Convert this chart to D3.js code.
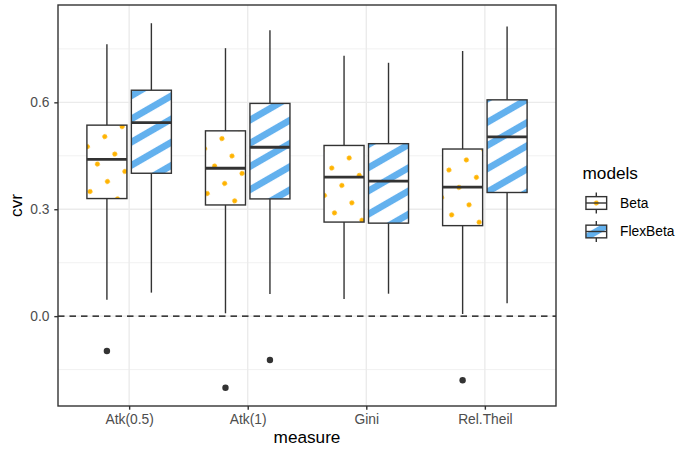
<!DOCTYPE html>
<html>
<head>
<meta charset="utf-8">
<script src="https://cdn.jsdelivr.net/npm/d3@7"></script>
<style>
  body { margin: 0; background: #fff; }
  svg { font-family: "Liberation Sans", Arial, sans-serif; }
</style>
</head>
<body>
<svg width="676" height="450"></svg>
<script>
const width = 676;
const height = 450;
const panel = { left: 58, top: 5, right: 556, bottom: 406 };

const measures = ['Atk(0.5)', 'Atk(1)', 'Gini', 'Rel.Theil'];
const models = ['Beta', 'FlexBeta'];

// five-number summaries: [lower, q1, median, q3, upper]
const betaStats = [
    [0.046, 0.330, 0.440, 0.536, 0.763],
    [0.008, 0.312, 0.415, 0.520, 0.752],
    [0.048, 0.264, 0.390, 0.479, 0.731],
    [0.006, 0.254, 0.362, 0.469, 0.744]
];
const flexStats = [
    [0.066, 0.401, 0.543, 0.634, 0.822],
    [0.062, 0.329, 0.474, 0.597, 0.802],
    [0.063, 0.261, 0.379, 0.484, 0.711],
    [0.036, 0.347, 0.503, 0.607, 0.813]
];
const betaOutliers = [[-0.098], [-0.201], [], [-0.180]];
const flexOutliers = [[], [-0.123], [], []];

const yTicks = [0, 0.3, 0.6];
const yMinor = [-0.15, 0.15, 0.45, 0.75];

const boxes = [];
measures.forEach(function(m, i) {
    boxes.push({ measure: m, model: 'Beta', s: betaStats[i], out: betaOutliers[i] });
    boxes.push({ measure: m, model: 'FlexBeta', s: flexStats[i], out: flexOutliers[i] });
});

const allVals = boxes.flatMap(function(d) { return d.s.concat(d.out); });
const lo = d3.min(allVals), hi = d3.max(allVals);
const pad = (hi - lo) * 0.05;

const x = d3.scalePoint()
    .domain(measures)
    .range([panel.left, panel.right])
    .padding(0.6);

const y = d3.scaleLinear()
    .domain([lo - pad, hi + pad])
    .range([panel.bottom, panel.top]);

const step = x.step();
const dodge = d3.scaleOrdinal().domain(models).range([-0.1875 * step, 0.1875 * step]);
const boxW = 0.3375 * step;
const cx = d => x(d.measure) + dodge(d.model);

const ink = '#333333';
const orange = '#FFB300';
const blue = '#63B1EE';
const spacing = 20.1;
const lw = 1.4;
const smallFont = '13.8px';
const bigFont = '17.2px';

const svg = d3.select('svg');
svg.append('rect').attr('width', width).attr('height', height).attr('fill', '#fff');

const defs = svg.append('defs');

// pattern anchored at (ax, ay) in the user space of whatever uses it
function makePattern(id, kind, ax, ay, shift) {
    const p = defs.append('pattern')
        .attr('id', id)
        .attr('patternUnits', 'userSpaceOnUse')
        .attr('width', spacing)
        .attr('height', spacing)
        .attr('patternTransform', `translate(${ax},${ay}) rotate(-30) translate(${-spacing / 2},${-spacing / 2 - shift})`);
    if (kind === 'dots') {
        p.append('circle')
            .attr('cx', spacing / 2).attr('cy', spacing / 2)
            .attr('r', 2.4).attr('fill', orange);
    } else {
        p.append('rect')
            .attr('x', -1).attr('y', spacing / 2 - 3.4)
            .attr('width', spacing + 2).attr('height', 6.8)
            .attr('fill', blue);
    }
}

const pcx = (panel.left + panel.right) / 2;
const pcy = (panel.top + panel.bottom) / 2;
makePattern('pat-Beta', 'dots', pcx, pcy, 0);
makePattern('pat-FlexBeta', 'stripes', pcx, pcy, 2);
makePattern('key-Beta', 'dots', 0, 0, 0);
makePattern('key-FlexBeta', 'stripes', 0, 0, 0);

// panel grid
const grid = svg.append('g');
grid.selectAll('.minor')
    .data(yMinor)
    .join('line')
    .attr('x1', panel.left).attr('x2', panel.right)
    .attr('y1', d => y(d)).attr('y2', d => y(d))
    .attr('stroke', '#EBEBEB').attr('stroke-width', lw / 2);
grid.selectAll('.major')
    .data(yTicks)
    .join('line')
    .attr('x1', panel.left).attr('x2', panel.right)
    .attr('y1', d => y(d)).attr('y2', d => y(d))
    .attr('stroke', '#EBEBEB').attr('stroke-width', lw);
grid.selectAll('.vmajor')
    .data(measures)
    .join('line')
    .attr('x1', d => x(d)).attr('x2', d => x(d))
    .attr('y1', panel.top).attr('y2', panel.bottom)
    .attr('stroke', '#EBEBEB').attr('stroke-width', lw);

// zero reference
svg.append('line')
    .attr('x1', panel.left).attr('x2', panel.right)
    .attr('y1', y(0)).attr('y2', y(0))
    .attr('stroke', '#000').attr('stroke-width', lw)
    .attr('stroke-dasharray', '6.5,5');

// boxplots (absolute coordinates so the fill patterns share one lattice)
const g = svg.append('g')
    .selectAll('g')
    .data(boxes)
    .join('g');

g.append('line')
    .attr('x1', cx).attr('x2', cx)
    .attr('y1', d => y(d.s[3])).attr('y2', d => y(d.s[4]))
    .attr('stroke', ink).attr('stroke-width', lw);
g.append('line')
    .attr('x1', cx).attr('x2', cx)
    .attr('y1', d => y(d.s[1])).attr('y2', d => y(d.s[0]))
    .attr('stroke', ink).attr('stroke-width', lw);
g.append('rect')
    .attr('x', d => cx(d) - boxW / 2).attr('width', boxW)
    .attr('y', d => y(d.s[3])).attr('height', d => y(d.s[1]) - y(d.s[3]))
    .attr('fill', '#fff');
g.append('rect')
    .attr('x', d => cx(d) - boxW / 2).attr('width', boxW)
    .attr('y', d => y(d.s[3])).attr('height', d => y(d.s[1]) - y(d.s[3]))
    .attr('fill', d => `url(#pat-${d.model})`)
    .attr('stroke', ink).attr('stroke-width', lw);
g.append('line')
    .attr('x1', d => cx(d) - boxW / 2).attr('x2', d => cx(d) + boxW / 2)
    .attr('y1', d => y(d.s[2])).attr('y2', d => y(d.s[2]))
    .attr('stroke', ink).attr('stroke-width', 2.8);
g.each(function(d) {
    d3.select(this).selectAll('circle')
        .data(d.out)
        .join('circle')
        .attr('cx', cx(d))
        .attr('cy', v => y(v))
        .attr('r', 3.2)
        .attr('fill', ink);
});

// panel border
svg.append('rect')
    .attr('x', panel.left).attr('y', panel.top)
    .attr('width', panel.right - panel.left).attr('height', panel.bottom - panel.top)
    .attr('fill', 'none').attr('stroke', ink).attr('stroke-width', lw);

// axes
const yAxis = svg.append('g')
    .attr('transform', `translate(${panel.left},0)`)
    .call(d3.axisLeft(y).tickValues(yTicks).tickFormat(d3.format('.1f')).tickSize(3.7).tickPadding(4.8));
const xAxis = svg.append('g')
    .attr('transform', `translate(0,${panel.bottom})`)
    .call(d3.axisBottom(x).tickSize(3.7).tickPadding(5));
[xAxis, yAxis].forEach(function(a) {
    a.attr('font-size', null).attr('font-family', null);
    a.select('.domain').remove();
    a.selectAll('.tick line').attr('stroke', ink).attr('stroke-width', lw);
    a.selectAll('.tick text')
        .attr('fill', '#4D4D4D')
        .style('font-size', smallFont);
});

svg.append('text')
    .attr('x', pcx).attr('y', 443)
    .attr('text-anchor', 'middle')
    .style('font-size', bigFont)
    .text('measure');
svg.append('text')
    .attr('transform', `translate(22,${pcy}) rotate(-90)`)
    .attr('text-anchor', 'middle')
    .style('font-size', bigFont)
    .text('cvr');

// legend
const key = 27.6;
const legend = svg.append('g').attr('transform', 'translate(582.5,0)');
legend.append('text')
    .attr('x', 0).attr('y', 179)
    .style('font-size', bigFont)
    .text('models');

models.forEach(function(m, i) {
    const ky = 203 + i * 28.5;
    const k = legend.append('g').attr('transform', `translate(${key / 2},${ky})`);
    k.append('line')
        .attr('y1', -0.38 * key).attr('y2', -0.23 * key)
        .attr('stroke', ink).attr('stroke-width', lw);
    k.append('line')
        .attr('y1', 0.23 * key).attr('y2', 0.38 * key)
        .attr('stroke', ink).attr('stroke-width', lw);
    k.append('rect')
        .attr('x', -0.375 * key).attr('y', -0.23 * key)
        .attr('width', 0.75 * key).attr('height', 0.46 * key)
        .attr('fill', '#fff');
    k.append('rect')
        .attr('x', -0.375 * key).attr('y', -0.23 * key)
        .attr('width', 0.75 * key).attr('height', 0.46 * key)
        .attr('fill', `url(#key-${m})`)
        .attr('stroke', ink).attr('stroke-width', lw);
    k.append('line')
        .attr('x1', -0.375 * key).attr('x2', 0.375 * key)
        .attr('stroke', ink).attr('stroke-width', lw);
    legend.append('text')
        .attr('x', 37.5).attr('y', ky + 4.6)
        .style('font-size', smallFont)
        .text(m);
});
</script>
</body>
</html>
